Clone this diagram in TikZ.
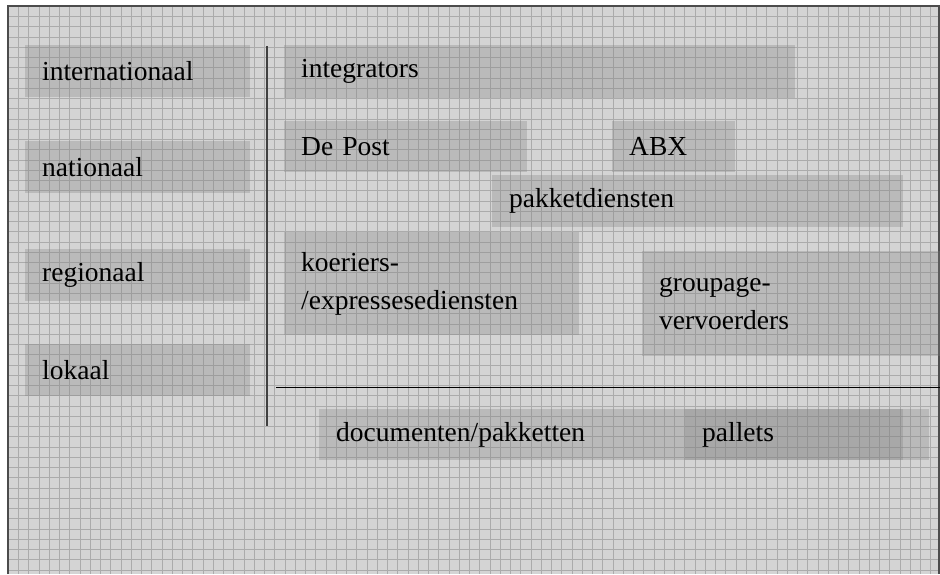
\documentclass[tikz,border=0pt]{standalone}
\usepackage{fontspec}
\setmainfont{Liberation Serif}
\usetikzlibrary{positioning}

\begin{document}
\begin{tikzpicture}[x=1pt, y=-1pt, node distance=43pt,
        box/.style={rectangle, fill=black!50, fill opacity=0.3, text opacity=1, anchor=north west, align=left, inner xsep=17pt, inner ysep=0pt, minimum height=52pt, font=\fontsize{27.5}{38}\selectfont},
        frame/.style={draw=black!70, line width=1.5pt},
        gridline/.style={draw=black!33, line width=0.5pt}]

        \useasboundingbox (0,0) rectangle (940,574);
        \fill[black!17] (8,6) rectangle (940,574);
        \draw[gridline, shift={(8,6)}, step=10.25pt] (0,0) grid (932,568);
        \draw[frame] (8,574) -- (8,6) -- (939,6) -- (939,574);

        \node[box, text width=191pt] (intl) at (25,45) {internationaal};
        \node[box, text width=191pt, below=43pt of intl.south west, anchor=north west] (natl) {nationaal};
        \node[box, text width=191pt, below=56pt of natl.south west, anchor=north west] (regl) {regionaal};
        \node[box, text width=191pt, below=43pt of regl.south west, anchor=north west] (lokl) {lokaal};

        \node[box, text width=477pt, minimum height=53pt] (integr) at (284,45) {integrators};
        \node[box, text width=209pt, minimum height=51pt] (post) at (284,121) {De Post};
        \node[box, text width=89pt, minimum height=51pt] (abx) at (612,121) {ABX};
        \node[box, text width=377pt] (pakket) at (492,175) {pakketdiensten};
        \node[box, text width=261pt, minimum height=103pt] (koerier) at (284,232) {koeriers-\\/expressesediensten};
        \node[box, text width=264pt, minimum height=105pt] (groupage) at (642,251) {groupage-\\vervoerders};

        \node[box, text width=576pt, minimum height=51pt] (docs) at (319,409) {documenten/pakketten};
        \node[box, text width=184pt, minimum height=51pt] (pallets) at (685,409) {pallets};

        \coordinate (vtop) at (267,46);
        \coordinate (vbot) at (267,426);
        \coordinate (hleft) at (276,387);
        \coordinate (hright) at (940,387);
        \draw[draw=black!75, line width=1.5pt] (vtop) -- (vbot);
        \draw[black, line width=1pt] (hleft) -- (hright);

    \end{tikzpicture}
\end{document}
